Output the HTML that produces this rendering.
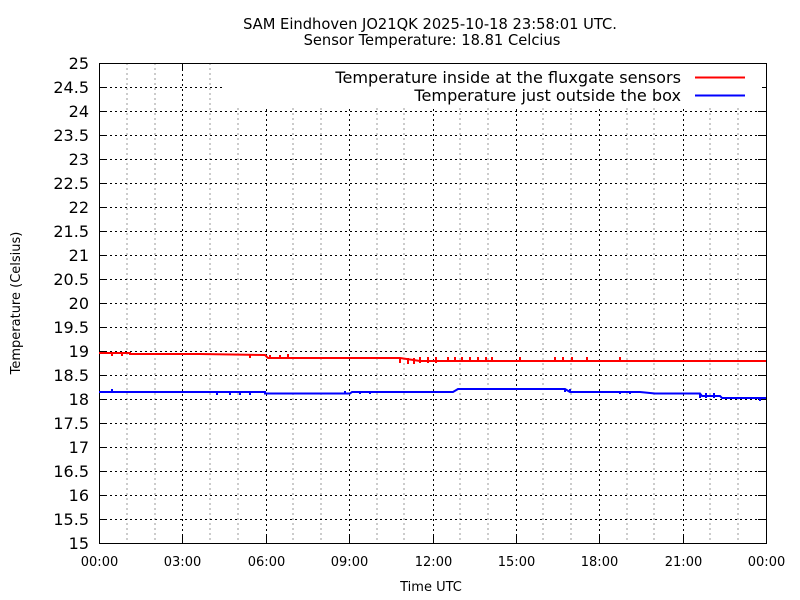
<!DOCTYPE html>
<html><head><style>body{margin:0;background:#fff}svg{display:block}text{font-family:"DejaVu Sans","Liberation Sans",sans-serif}</style></head><body>
<svg width="800" height="600" xmlns="http://www.w3.org/2000/svg" font-size="13">
<rect width="800" height="600" fill="#fff"/>
<text x="430" y="29" text-anchor="middle" style="font-size:14.7px">SAM Eindhoven JO21QK 2025-10-18 23:58:01 UTC.</text>
<text x="432" y="45" text-anchor="middle" style="font-size:14.7px">Sensor Temperature: 18.81 Celcius</text>
<g stroke="#999" stroke-dasharray="2,3" stroke-width="1">
<line x1="127" y1="63" x2="127" y2="543"/><line x1="155" y1="63" x2="155" y2="543"/>
<line x1="210" y1="63" x2="210" y2="543"/><line x1="238" y1="63" x2="238" y2="543"/>
<line x1="293" y1="63" x2="293" y2="543"/><line x1="321" y1="63" x2="321" y2="543"/>
<line x1="377" y1="63" x2="377" y2="543"/><line x1="404" y1="63" x2="404" y2="543"/>
<line x1="460" y1="63" x2="460" y2="543"/><line x1="488" y1="63" x2="488" y2="543"/>
<line x1="543" y1="63" x2="543" y2="543"/><line x1="571" y1="63" x2="571" y2="543"/>
<line x1="627" y1="63" x2="627" y2="543"/><line x1="654" y1="63" x2="654" y2="543"/>
<line x1="710" y1="63" x2="710" y2="543"/><line x1="738" y1="63" x2="738" y2="543"/>
</g>
<g stroke="#000" stroke-dasharray="2,3" stroke-width="1" id="grid"></g>
<g id="ticks"></g>
<rect x="99.5" y="63.5" width="667" height="480" fill="none" stroke="#000"/>
<polyline fill="none" stroke="#f00" stroke-width="2" points="99,353 130,353 130,354 200,354 265,355 268,358 400,358 420,361 766,361"/>
<polyline fill="none" stroke="#00f" stroke-width="2" points="99,392 265,392 265,393.5 350,393.5 352,392 453,392 458,389 565,389 570,392 640,392 655,393.5 700,393.5 702,396 720,396 722,398 766,398"/>
<g stroke="#f00" stroke-width="2"><line x1="112" y1="353" x2="112" y2="356"/><line x1="122" y1="353" x2="122" y2="356"/><line x1="250" y1="354" x2="250" y2="358"/><line x1="270" y1="358" x2="270" y2="355"/><line x1="280" y1="358" x2="280" y2="355"/><line x1="288" y1="358" x2="288" y2="354"/>
<line x1="400" y1="358" x2="400" y2="363"/><line x1="408" y1="358" x2="408" y2="364"/><line x1="414" y1="358" x2="414" y2="364"/><line x1="420" y1="357" x2="420" y2="363"/><line x1="428" y1="357" x2="428" y2="363"/><line x1="436" y1="357" x2="436" y2="363"/><line x1="448" y1="361" x2="448" y2="357"/><line x1="455" y1="361" x2="455" y2="357"/><line x1="462" y1="361" x2="462" y2="357"/><line x1="470" y1="361" x2="470" y2="357"/><line x1="478" y1="361" x2="478" y2="357"/><line x1="486" y1="361" x2="486" y2="357"/><line x1="492" y1="361" x2="492" y2="357"/><line x1="520" y1="361" x2="520" y2="357"/><line x1="555" y1="361" x2="555" y2="357"/><line x1="563" y1="361" x2="563" y2="357"/><line x1="572" y1="361" x2="572" y2="357"/><line x1="587" y1="361" x2="587" y2="357"/><line x1="620" y1="361" x2="620" y2="357"/></g>
<g stroke="#00f" stroke-width="2"><line x1="112" y1="392" x2="112" y2="389"/><line x1="217" y1="392" x2="217" y2="395"/><line x1="230" y1="392" x2="230" y2="395"/><line x1="240" y1="392" x2="240" y2="395"/><line x1="250" y1="392" x2="250" y2="395"/><line x1="345" y1="393" x2="345" y2="391"/><line x1="360" y1="392" x2="360" y2="394"/><line x1="370" y1="392" x2="370" y2="394"/><line x1="565" y1="389" x2="565" y2="392"/><line x1="570" y1="389" x2="570" y2="392"/><line x1="620" y1="392" x2="620" y2="394"/><line x1="630" y1="392" x2="630" y2="394"/><line x1="700" y1="393" x2="700" y2="398"/><line x1="706" y1="393" x2="706" y2="398"/><line x1="714" y1="393" x2="714" y2="398"/><line x1="760" y1="398" x2="760" y2="401"/></g>
<rect x="222" y="64" width="540" height="42" fill="#fff"/>
<text x="681" y="83" text-anchor="end" style="font-size:16.1px">Temperature inside at the fluxgate sensors</text>
<line x1="695" y1="77.5" x2="745" y2="77.5" stroke="#f00" stroke-width="2"/>
<text x="681" y="101" text-anchor="end" style="font-size:16.1px">Temperature just outside the box</text>
<line x1="695" y1="95.5" x2="745" y2="95.5" stroke="#00f" stroke-width="2"/>
<text x="431" y="591" text-anchor="middle">Time UTC</text>
<text transform="translate(20,303) rotate(-90)" text-anchor="middle">Temperature (Celsius)</text>
<script>
var g=document.getElementById('grid'),t=document.getElementById('ticks'),ns='http://www.w3.org/2000/svg';
function el(p,n,a,txt){var e=document.createElementNS(ns,n);for(var k in a)e.setAttribute(k,a[k]);if(txt!=null)e.textContent=txt;p.appendChild(e);}
for(var i=0;i<=20;i++){var v=15+i*0.5,y=543-i*24;
 if(i>0&&i<20)el(g,'line',{x1:100,y1:y+0.5,x2:(i==19?222:766),y2:y+0.5});
 el(t,'line',{x1:99,y1:y+0.5,x2:107,y2:y+0.5,stroke:'#000'});el(t,'line',{x1:758,y1:y+0.5,x2:766,y2:y+0.5,stroke:'#000'});
 el(t,'text',{x:89,y:y+6,'text-anchor':'end',style:'font-size:16px'},(v%1==0?v:v.toFixed(1)));}
var labs=['00:00','03:00','06:00','09:00','12:00','15:00','18:00','21:00','00:00'];
for(var j=0;j<=8;j++){var x=Math.round(99+j*83.375)+0.5;
 if(j>0&&j<8)el(g,'line',{x1:x,y1:64,x2:x,y2:543});
 el(t,'line',{x1:x,y1:543,x2:x,y2:535,stroke:'#000'});el(t,'line',{x1:x,y1:63,x2:x,y2:71,stroke:'#000'});
 el(t,'text',{x:x,y:566,'text-anchor':'middle'},labs[j]);}
</script>
</svg>
</body></html>
